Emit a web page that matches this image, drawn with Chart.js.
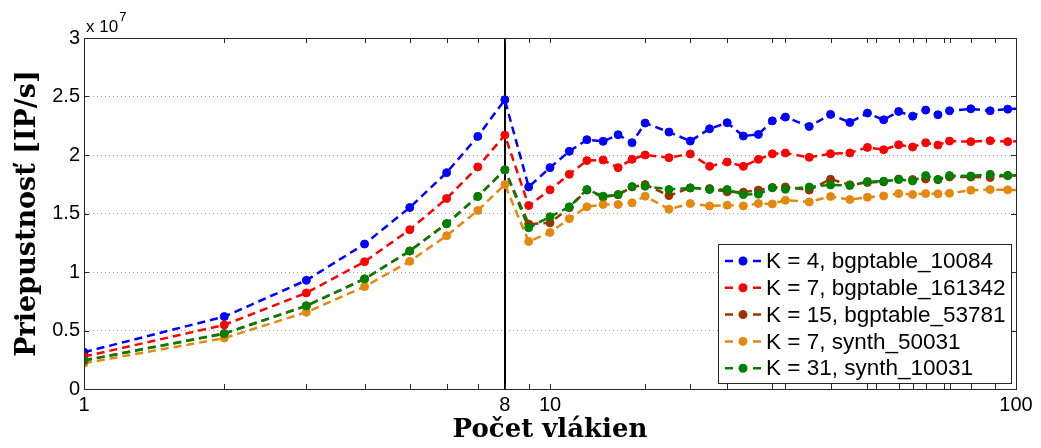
<!DOCTYPE html>
<html>
<head>
<meta charset="utf-8">
<script src="https://cdn.jsdelivr.net/npm/chart.js@4/dist/chart.umd.min.js"></script>
<style>
  html, body { margin: 0; padding: 0; background: #fff; }
</style>
</head>
<body>
<canvas id="chart" width="1041" height="448"></canvas>
<script>
// number of threads (x) and throughput in units of 1e7 IP/s (y)
const threads = [1, 2, 3, 4, 5, 6, 7, 8, 9, 10, 11, 12, 13, 14, 15, 16, 18, 20, 22, 24, 26, 28, 30, 32,
  36, 40, 44, 48, 52, 56, 60, 64, 68, 72, 80, 88, 96, 104];

const k4Bgp = [0.314, 0.619, 0.929, 1.239, 1.551, 1.849, 2.159, 2.472, 1.727, 1.892, 2.031, 2.131, 2.117, 2.173, 2.105, 2.273,
  2.196, 2.119, 2.224, 2.276, 2.162, 2.176, 2.292, 2.324, 2.244, 2.347, 2.278, 2.358, 2.301, 2.372, 2.332, 2.384, 2.344, 2.378,
  2.395, 2.378, 2.392, 2.400];
const k7Bgp = [0.277, 0.548, 0.821, 1.088, 1.361, 1.628, 1.898, 2.170, 1.568, 1.702, 1.835, 1.952, 1.957, 1.892, 1.963, 2.000,
  1.977, 2.009, 1.903, 1.940, 1.903, 1.963, 2.010, 2.017, 1.980, 2.011, 2.017, 2.065, 2.045, 2.088, 2.068, 2.105, 2.085, 2.119,
  2.114, 2.122, 2.114, 2.120];
const k15Bgp = [0.245, 0.475, 0.712, 0.942, 1.180, 1.414, 1.647, 1.874, 1.410, 1.420, 1.550, 1.700, 1.640, 1.660, 1.727, 1.747,
  1.653, 1.719, 1.713, 1.685, 1.682, 1.700, 1.722, 1.727, 1.700, 1.793, 1.745, 1.765, 1.770, 1.795, 1.790, 1.795, 1.790, 1.812,
  1.812, 1.807, 1.824, 1.830];
const k7Synth = [0.220, 0.435, 0.656, 0.875, 1.091, 1.310, 1.526, 1.747, 1.261, 1.338, 1.455, 1.557, 1.577, 1.577, 1.591, 1.648,
  1.537, 1.585, 1.565, 1.571, 1.565, 1.585, 1.582, 1.614, 1.599, 1.645, 1.619, 1.639, 1.650, 1.670, 1.662, 1.670, 1.668, 1.673,
  1.699, 1.705, 1.702, 1.700];
const k31Synth = [0.243, 0.472, 0.710, 0.940, 1.179, 1.412, 1.645, 1.872, 1.378, 1.472, 1.557, 1.705, 1.648, 1.662, 1.730, 1.733,
  1.705, 1.719, 1.705, 1.705, 1.662, 1.665, 1.720, 1.707, 1.727, 1.744, 1.739, 1.773, 1.776, 1.790, 1.778, 1.824, 1.790, 1.824,
  1.821, 1.835, 1.824, 1.830];

const seriesLabels = ['K = 4, bgptable_10084', 'K = 7, bgptable_161342', 'K = 15, bgptable_53781',
  'K = 7, synth_50031', 'K = 31, synth_10031'];
const seriesValues = [k4Bgp, k7Bgp, k15Bgp, k7Synth, k31Synth];
const seriesColors = ['#0000ff', '#ff0000', '#993300', '#e5880f', '#008000'];

const xTickMarks = [1, 2, 3, 4, 5, 6, 7, 8, 9, 10, 16, 20, 24, 30, 32, 40, 48, 50, 56, 60, 64, 70, 72, 80, 90, 100];
const xTickLabels = [1, 8, 10, 100];
const yTicks = [0, 0.5, 1, 1.5, 2, 2.5, 3];
const splitAt = 8;

const sans = "'Liberation Sans', Arial, sans-serif";
const serif = "'DejaVu Serif', serif";

const frame = {
  id: 'frame',
  beforeDatasetsDraw(chart) {
    const { ctx, chartArea: a, scales: { x } } = chart;
    const px = Math.round(x.getPixelForValue(splitAt));
    ctx.save();
    ctx.strokeStyle = '#000';
    ctx.lineWidth = 2;
    ctx.beginPath();
    ctx.moveTo(px, a.top);
    ctx.lineTo(px, a.bottom);
    ctx.stroke();
    ctx.restore();
  },
  afterDraw(chart) {
    const { ctx, chartArea: a, scales: { x, y } } = chart;
    ctx.save();
    ctx.strokeStyle = '#262626';
    ctx.lineWidth = 1;
    ctx.strokeRect(a.left + 0.5, a.top + 0.5, a.right - a.left, a.bottom - a.top);

    // inward ticks, MATLAB style
    const tl = 5;
    ctx.beginPath();
    xTickMarks.forEach(v => {
      const px = Math.round(x.getPixelForValue(v)) + 0.5;
      ctx.moveTo(px, a.bottom); ctx.lineTo(px, a.bottom - tl);
      ctx.moveTo(px, a.top); ctx.lineTo(px, a.top + tl);
    });
    yTicks.forEach(v => {
      const py = Math.round(y.getPixelForValue(v)) + 0.5;
      ctx.moveTo(a.left, py); ctx.lineTo(a.left + tl, py);
      ctx.moveTo(a.right, py); ctx.lineTo(a.right - tl, py);
    });
    ctx.stroke();

    // axis multiplier
    ctx.fillStyle = '#000';
    ctx.textBaseline = 'alphabetic';
    ctx.textAlign = 'left';
    ctx.font = '17px ' + sans;
    ctx.fillText('x 10', a.left + 2, a.top - 6);
    const w = ctx.measureText('x 10').width;
    ctx.font = '13px ' + sans;
    ctx.fillText('7', a.left + 2 + w + 1, a.top - 17);

    // legend box, bottom right inside the axes
    const bw = 293, bh = 139;
    const bx = a.right - 5 - bw, by = a.bottom - 6 - bh;
    ctx.fillStyle = '#fff';
    ctx.fillRect(bx, by, bw, bh);
    ctx.strokeStyle = '#262626';
    ctx.strokeRect(bx + 0.5, by + 0.5, bw, bh);
    ctx.font = '22.5px ' + sans;
    ctx.textBaseline = 'middle';
    chart.data.datasets.forEach((ds, i) => {
      const ry = by + 17 + i * 26.8;
      ctx.strokeStyle = ds.borderColor;
      ctx.lineWidth = 2.5;
      ctx.setLineDash([8, 20]);
      ctx.beginPath();
      ctx.moveTo(bx + 7, ry);
      ctx.lineTo(bx + 44, ry);
      ctx.stroke();
      ctx.setLineDash([]);
      ctx.fillStyle = ds.borderColor;
      ctx.beginPath();
      ctx.arc(bx + 25, ry, 4.5, 0, Math.PI * 2);
      ctx.fill();
      ctx.fillStyle = '#000';
      ctx.fillText(ds.label, bx + 48, ry + 1);
    });
    ctx.restore();
  }
};

const datasets = seriesValues.map((vals, i) => ({
  label: seriesLabels[i],
  data: threads.map((t, j) => ({ x: t, y: vals[j] })),
  borderColor: seriesColors[i],
  backgroundColor: seriesColors[i],
  borderWidth: 2.5,
  borderDash: [8, 5],
  pointRadius: 4,
  pointBorderWidth: 1,
  pointBackgroundColor: seriesColors[i],
  pointBorderColor: seriesColors[i],
  tension: 0,
  order: seriesValues.length - i
}));

new Chart(document.getElementById('chart'), {
  type: 'line',
  data: { datasets },
  options: {
    responsive: false,
    animation: false,
    devicePixelRatio: 1,
    layout: { padding: { left: 0, top: 38, right: 25, bottom: 0 } },
    plugins: {
      legend: { display: false },
      tooltip: { enabled: false }
    },
    scales: {
      x: {
        type: 'logarithmic',
        min: 1,
        max: 100,
        afterBuildTicks: s => { s.ticks = xTickMarks.map(v => ({ value: v })); },
        afterFit: s => { s.height = 59; },
        grid: { drawOnChartArea: false, drawTicks: false },
        border: { color: '#262626' },
        ticks: {
          autoSkip: false,
          maxRotation: 0,
          padding: 4,
          color: '#000',
          font: { family: sans, size: 20 },
          callback: v => xTickLabels.includes(v) ? String(v) : ''
        },
        title: {
          display: true,
          text: 'Počet vlákien',
          color: '#000',
          font: { family: serif, size: 26, weight: 'bold' },
          padding: { top: 0, bottom: 2 }
        }
      },
      y: {
        min: 0,
        max: 3,
        afterBuildTicks: s => { s.ticks = yTicks.map(v => ({ value: v })); },
        afterFit: s => { s.width = 84; },
        grid: { color: '#a0a0a0', lineWidth: 1, drawTicks: false },
        border: { color: '#262626', dash: [1, 3] },
        ticks: {
          padding: 4,
          color: '#000',
          font: { family: sans, size: 20 },
          callback: v => String(v)
        },
        title: {
          display: true,
          text: 'Priepustnosť [IP/s]',
          color: '#000',
          font: { family: serif, size: 27, weight: 'bold' },
          padding: { top: 12, bottom: 0 }
        }
      }
    }
  },
  plugins: [frame]
});
</script>
</body>
</html>
